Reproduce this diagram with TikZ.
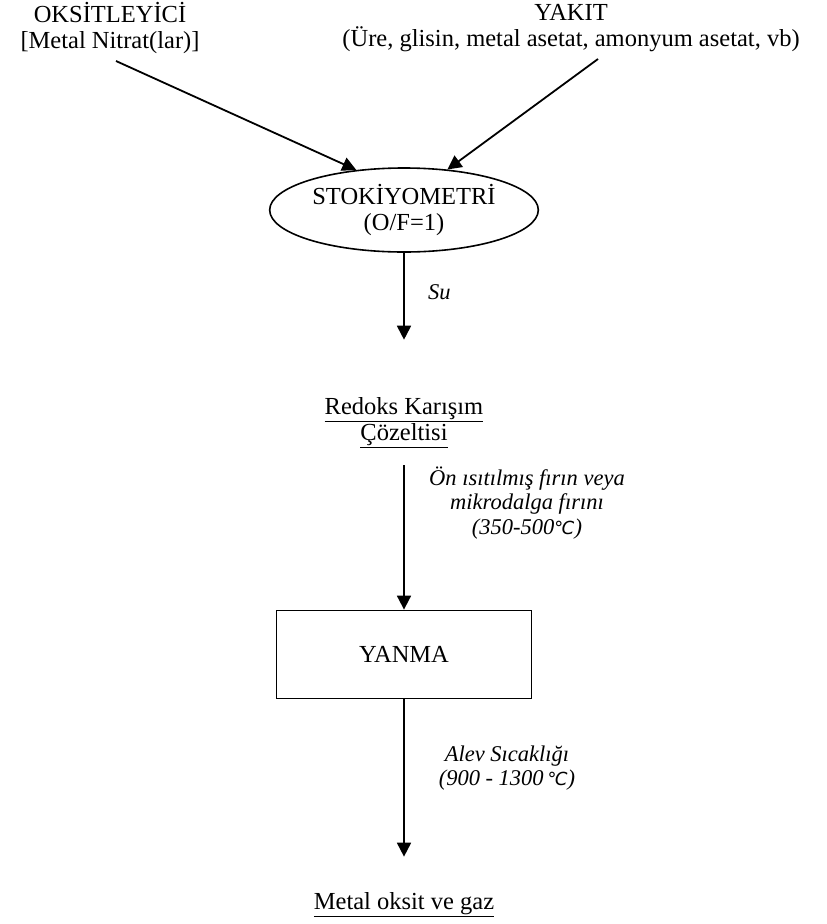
\documentclass[tikz,border=0pt]{standalone}
\usepackage{fontspec}
\setmainfont{Liberation Serif}
\newfontfamily\degfont{DejaVu Sans}
\usetikzlibrary{shapes.geometric, arrows.meta, positioning}
\newcommand{\cels}{{\degfont\itshape\fontsize{18}{22}\selectfont ℃}}

\begin{document}
\begin{tikzpicture}[x=1pt, y=-1pt, font=\fontsize{24.5}{26}\selectfont,
    txt/.style={align=center, inner sep=0pt},
    lbl/.style={align=center, inner sep=0pt, font=\fontsize{22.5}{24.5}\selectfont\itshape},
    ell/.style={draw, ellipse, line width=1.6pt, minimum width=268pt, minimum height=84pt, align=center},
    blk/.style={draw, line width=0.8pt, minimum width=255pt, minimum height=88pt},
    arrow/.style={-{Triangle[length=14pt, width=14pt]}, line width=1.8pt}]
    \useasboundingbox (0,0) rectangle (827,924);
    % inputs
    \node[txt] (ox) at (110,28) {OKSİTLEYİCİ\\{[Metal Nitrat(lar)]}};
    \node[txt] (yk) at (571,28) {YAKIT\\(Üre, glisin, metal asetat, amonyum asetat, vb)};
    \node[ell] (sto) at (404,210) {STOKİYOMETRİ\\(O/F=1)};
    \coordinate (oxs) at (116,61);
    \coordinate (yks) at (598,59);
    \draw[arrow] (oxs) -- (sto.140);
    \draw[arrow] (yks) -- (sto.43);

    % solution and combustion
    \node[txt] (kar) at (404,423) {\underline{Redoks Karışım}\\\underline{Çözeltisi}};
    \node[blk] (yan) at (404,654) {YANMA};
    \node[txt] (son) at (404,905) {\underline{Metal oksit ve gaz}};

    \draw[arrow] (sto.south) -- ([yshift=58pt]kar.north -| sto.south) coordinate (c1);
    \node[lbl, anchor=west] at (428,292) {Su};
    \draw[arrow] ([yshift=-17pt]kar.south -| yan.north) -- (yan.north);
    \node[lbl] at (527,503) {Ön ısıtılmış fırın veya\\mikrodalga fırını\\(350-500\cels)};
    \draw[arrow] (yan.south) -- ([yshift=36pt]son.north) coordinate (c3);
    \node[lbl] at (507,768) {Alev Sıcaklığı\\(900 - 1300\,\cels)};
\end{tikzpicture}
\end{document}
